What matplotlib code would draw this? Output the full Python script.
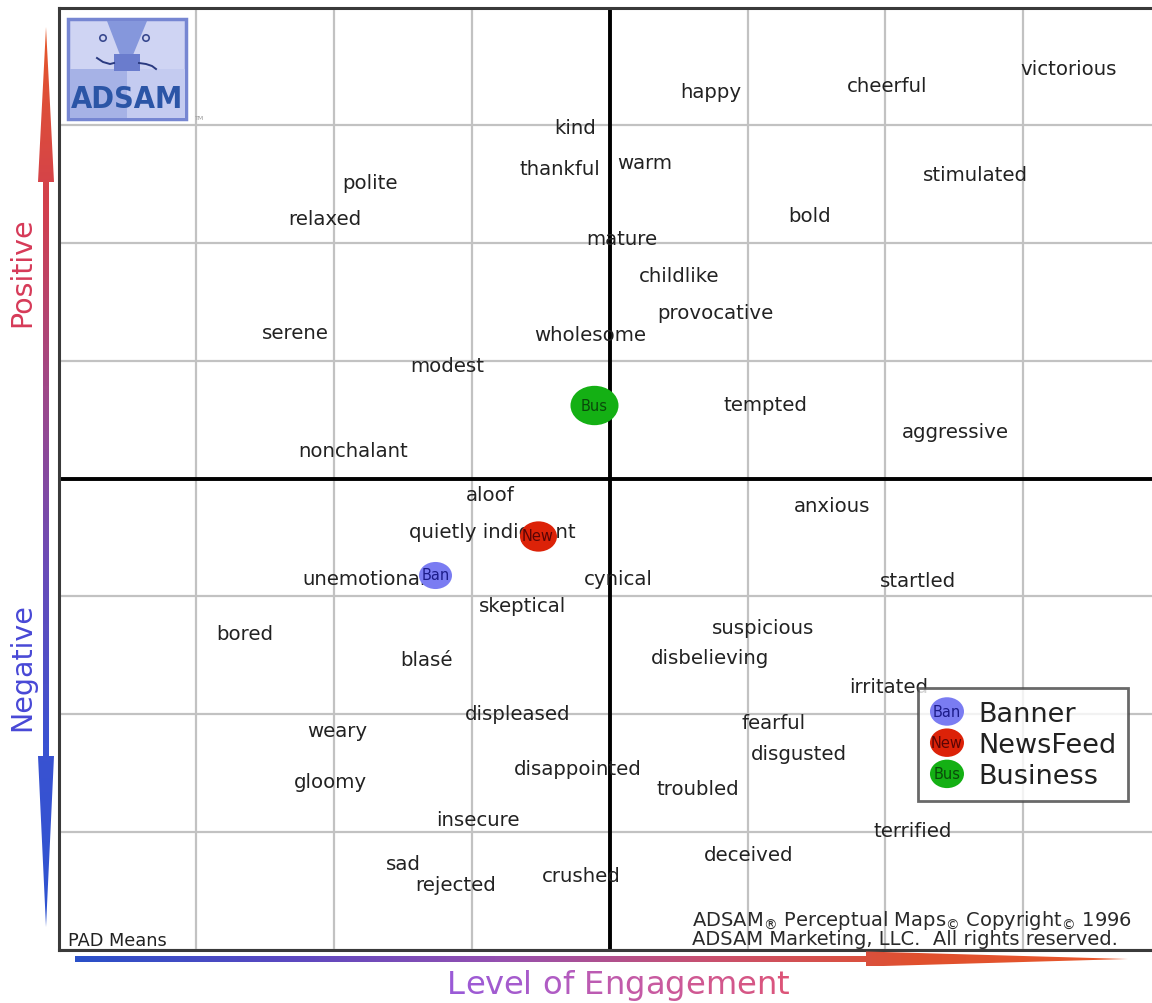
import numpy as np
import matplotlib
matplotlib.use("Agg")
import matplotlib.pyplot as plt
from matplotlib.path import Path
from matplotlib.patches import Polygon, Rectangle, Ellipse, Circle
from matplotlib.colors import LinearSegmentedColormap
from matplotlib.legend_handler import HandlerBase
from matplotlib.text import Text
from matplotlib.lines import Line2D
from matplotlib.transforms import ScaledTranslation
from matplotlib.font_manager import FontProperties

# ---------------- data ----------------
words = ["happy", "cheerful", "victorious", "kind", "thankful", "warm", "stimulated",
         "polite", "relaxed", "bold", "mature", "childlike", "provocative", "serene",
         "wholesome", "modest", "tempted", "aggressive", "nonchalant", "aloof", "anxious",
         "quietly indignant", "unemotional", "cynical", "startled", "skeptical", "bored",
         "suspicious", "blasé", "disbelieving", "irritated", "displeased", "weary",
         "fearful", "disgusted", "gloomy", "disappointed", "troubled", "insecure",
         "terrified", "deceived", "sad", "crushed", "rejected"]
word_x = [0.73, 2.01, 3.33, -0.25, -0.36, 0.25, 2.65,
          -1.74, -2.07, 1.45, 0.09, 0.50, 0.77, -2.28,
          -0.14, -1.18, 1.13, 2.51, -1.86, -0.87, 1.61,
          -0.85, -1.78, 0.06, 2.24, -0.63, -2.65,
          1.11, -1.33, 0.73, 2.02, -0.67, -1.98,
          1.19, 1.37, -2.03, -0.23, 0.64, -0.96,
          2.20, 1.01, -1.50, -0.21, -1.12]
word_y = [3.32, 3.37, 3.51, 3.01, 2.66, 2.71, 2.61,
          2.54, 2.24, 2.26, 2.07, 1.75, 1.44, 1.27,
          1.25, 0.99, 0.66, 0.43, 0.27, -0.11, -0.20,
          -0.42, -0.82, -0.82, -0.84, -1.05, -1.29,
          -1.24, -1.51, -1.49, -1.74, -1.97, -2.11,
          -2.04, -2.31, -2.54, -2.43, -2.60, -2.87,
          -2.96, -3.16, -3.24, -3.34, -3.42]

series_names = ["Banner", "NewsFeed", "Business"]
series_abbr = ["Ban", "New", "Bus"]
series_x = [-1.265, -0.524, -0.116]
series_y = [-0.817, -0.485, 0.62]

grid_ticks = [-4, -3, -2, -1, 0, 1, 2, 3, 4]

# ---------------- styles ----------------
series_colors = ["#7a7cf2", "#dc2208", "#14b014"]
series_text_colors = ["#1c1c8a", "#5a0505", "#0a4a0a"]
series_sizes = [565, 709, 1195]
W, H = 1152, 1004

fig = plt.figure(figsize=(W / 100, H / 100), dpi=100)
fig.patch.set_facecolor("white")

left_px, right_px, top_px, bot_px = 58.5, 1161.0, 8.5, 950.5
ax = fig.add_axes([left_px / W, (H - bot_px) / H, (right_px - left_px) / W, (bot_px - top_px) / H])
ax.set_xlim(-4, 4)
ax.set_ylim(-4, 4)
ax.set_xticks(grid_ticks)
ax.set_yticks(grid_ticks)
ax.tick_params(length=0, labelbottom=False, labelleft=False)
ax.grid(True, color="#c2c2c2", lw=1.6)
ax.set_axisbelow(True)
for side in ["left", "top", "bottom"]:
    ax.spines[side].set_color("#3a3a3a")
    ax.spines[side].set_linewidth(2.2)
ax.spines["right"].set_visible(False)
ax.axhline(0, color="black", lw=2.8, zorder=1)
ax.axvline(0, color="black", lw=2.8, zorder=1)

shift_down = ax.transData + ScaledTranslation(0, -2.5 / 72, fig.dpi_scale_trans)
for w, x, y in zip(words, word_x, word_y):
    ax.text(x, y, w, ha="center", va="center", fontsize=14.2, color="#222222", zorder=2,
            transform=shift_down)

circ = Path.unit_circle()
ell_path = Path(circ.vertices * np.array([1.22, 1.0]), circ.codes)

for name, ab, x, y, c, tc, s in zip(series_names, series_abbr, series_x, series_y,
                                    series_colors, series_text_colors, series_sizes):
    ax.scatter([x], [y], s=s, marker=ell_path, color=c, linewidths=0, zorder=3)
    ax.text(x, y, ab, ha="center", va="center", fontsize=10.5, color=tc, zorder=4)

ax.text((68 - left_px) / (right_px - left_px), (bot_px - 941) / (bot_px - top_px), "PAD Means",
        transform=ax.transAxes, ha="left", va="center", fontsize=12.8, color="#222222")
ax.text((692 - left_px) / (right_px - left_px), (bot_px - 929) / (bot_px - top_px),
        "ADSAM$_{®}$ Perceptual Maps$_{©}$ Copyright$_{©}$ 1996\nADSAM Marketing, LLC.  All rights reserved.",
        transform=ax.transAxes, ha="left", va="center", fontsize=14.0, color="#2a2a2a",
        linespacing=0.92)


# legend with text inside circles
class CircleTextHandler(HandlerBase):
    def __init__(self, color, label, tcolor):
        super().__init__()
        self.color, self.label, self.tcolor = color, label, tcolor

    def create_artists(self, legend, orig_handle, xdescent, ydescent, width, height, fontsize, trans):
        cx = width / 2 - xdescent
        cy = height / 2 - ydescent
        e = Ellipse((cx, cy), width=24.5, height=20.5, facecolor=self.color, edgecolor="none", transform=trans)
        t = Text(cx, cy, self.label, ha="center", va="center", fontsize=10.5, color=self.tcolor, transform=trans)
        return [e, t]


handles = [Line2D([], [], color=c) for c in series_colors]
hmap = {h: CircleTextHandler(c, ab, tc) for h, c, ab, tc in zip(handles, series_colors, series_abbr, series_text_colors)}
leg = ax.legend(handles, series_names, handler_map=hmap, loc="upper left",
                bbox_to_anchor=(918 / W, 1 - 689 / H), bbox_transform=fig.transFigure,
                borderaxespad=0, fontsize=19.5, frameon=True, fancybox=False,
                handlelength=1.3, handleheight=1.0, handletextpad=0.5, labelspacing=0.14,
                borderpad=0.42)
leg.get_frame().set_edgecolor("#444444")
leg.get_frame().set_linewidth(2)
for t in leg.get_texts():
    t.set_color("#222222")
leg.set_zorder(6)

# ---------------- overlay (pixel coordinates) ----------------
ov = fig.add_axes([0, 0, 1, 1], zorder=10)
ov.axis("off")


def grad_poly(verts, colors, vertical):
    xs = [v[0] for v in verts]
    ys = [v[1] for v in verts]
    cmap = LinearSegmentedColormap.from_list("g", colors)
    if vertical:
        arr = np.linspace(0, 1, 256).reshape(-1, 1)
    else:
        arr = np.linspace(0, 1, 256).reshape(1, -1)
    im = ov.imshow(arr, cmap=cmap, extent=(min(xs), max(xs), max(ys), min(ys)),
                   origin="upper", aspect="auto", interpolation="bilinear")
    poly = Polygon(verts, closed=True, facecolor="none", edgecolor="none", transform=ov.transData)
    ov.add_patch(poly)
    im.set_clip_path(poly)


# vertical arrow
vx = 46
v_verts = [(vx, 28), (vx + 8, 183), (vx + 3, 183), (vx + 3, 757), (vx + 8, 757), (vx, 928),
           (vx - 8, 757), (vx - 3, 757), (vx - 3, 183), (vx - 8, 183)]
grad_poly(v_verts, ["#e6582a", "#d2404e", "#a04888", "#6a4cb8", "#3a52d2", "#2f54d0"], True)

# horizontal arrow
hy = 960
h_verts = [(75, hy - 3), (866, hy - 3), (866, hy - 7.5), (1128, hy), (866, hy + 7.5), (866, hy + 3), (75, hy + 3)]
grad_poly(h_verts, ["#2a50c8", "#5a48c0", "#9450b0", "#c85070", "#e0502e", "#e8582c"], False)

ov.set_xlim(0, W)
ov.set_ylim(H, 0)

ov.text(22, 272, "Positive", rotation=90, ha="center", va="center", fontsize=20.5, color="#d63a58")
ov.text(22, 667, "Negative", rotation=90, ha="center", va="center", fontsize=20.5, color="#4848d6")

# gradient title
title = "Level of Engagement"
tfs = 23.2
renderer = fig.canvas.get_renderer()
fp = FontProperties(family="DejaVu Sans", size=tfs)


def tw(s):
    w, h, d = renderer.get_text_width_height_descent(s, fp, ismath=False)
    return w


total = tw(title)
x0 = 618 - total / 2
wl = tw("l")
tcmap = LinearSegmentedColormap.from_list("t", ["#9a5ad6", "#b05cc4", "#c85aa0", "#dc5478"])
for i, ch in enumerate(title):
    if ch == " ":
        continue
    off = tw(title[:i] + "l") - wl if i > 0 else 0
    ov.text(x0 + off, 986, ch, ha="left", va="center", fontproperties=fp,
            color=tcmap(i / (len(title) - 1)))

# logo
ov.add_patch(Rectangle((68, 20), 118, 100, facecolor="#cfd4f3", edgecolor="#7686d2", lw=2.5))
ov.add_patch(Rectangle((69.5, 70), 57, 48.5, facecolor="#a6b2e6", edgecolor="none"))
ov.add_patch(Rectangle((126.5, 70), 58, 48.5, facecolor="#c4cbf0", edgecolor="none"))
ov.add_patch(Polygon([(107, 22), (147, 22), (133, 56), (120, 56)], closed=True,
                     facecolor="#8597dc", edgecolor="none"))
ov.add_patch(Rectangle((114, 55), 26, 17, facecolor="#6a7ccd", edgecolor="none"))
ov.add_patch(Circle((103, 39), 3.2, facecolor="none", edgecolor="#3a4a90", lw=1.2))
ov.add_patch(Circle((146, 39), 3.2, facecolor="none", edgecolor="#3a4a90", lw=1.2))
ov.plot([97, 103, 110, 114], [59, 63, 65, 64], color="#2a3a80", lw=1.4)
ov.plot([139, 146, 152, 156], [64, 65, 67, 70], color="#2a3a80", lw=1.4)
ov.text(127, 99, "ADSAM", ha="center", va="center", fontsize=22, fontweight="bold",
        fontstretch="condensed", color="#2b55a6")
ov.text(200, 118, "TM", ha="center", va="center", fontsize=4.5, color="#999999")

ov.set_xlim(0, W)
ov.set_ylim(H, 0)

fig.savefig("out.png", dpi=100)
